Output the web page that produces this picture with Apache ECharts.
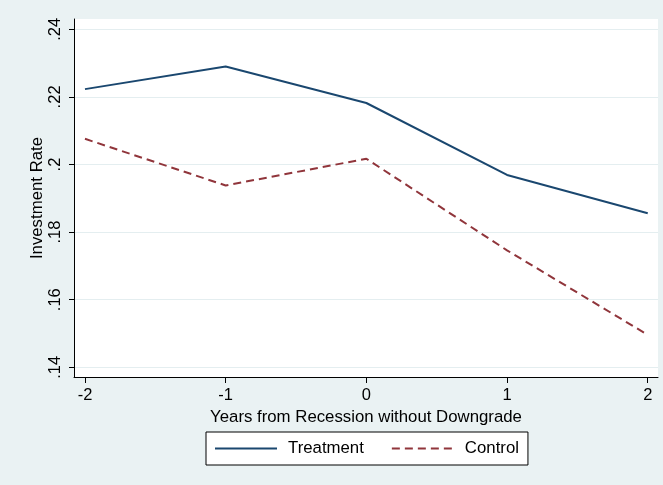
<!DOCTYPE html>
<html>
<head>
<meta charset="utf-8">
<script src="https://cdn.jsdelivr.net/npm/echarts@6/dist/echarts.min.js"></script>
<style>
  html, body { margin: 0; padding: 0; background: #EAF2F3; }
  #chart { width: 663px; height: 485px; }
</style>
</head>
<body>
<div id="chart"></div>
<script>
// Years relative to the recession
const years = [-2, -1, 0, 1, 2];
// Mean investment rate by group
const treatment = [0.2223, 0.2290, 0.2182, 0.1969, 0.1856];
const control = [0.2076, 0.1938, 0.2017, 0.1746, 0.1496];
// Axis tick positions
const xTicks = [-2, -1, 0, 1, 2];
const yTicks = [0.14, 0.16, 0.18, 0.20, 0.22, 0.24];

const font = '"Liberation Sans", Arial, sans-serif';
const navy = '#1A476F';
const maroon = '#90353B';
const tickSize = 16.5;
const textSize = 16.8;

function fmtRate(v) {
  return String(Math.round(v * 100) / 100).replace(/^0\./, '.');
}

const chart = echarts.init(document.getElementById('chart'), null, { renderer: 'canvas' });

chart.setOption({
  backgroundColor: '#EAF2F3',
  animation: false,
  textStyle: { fontFamily: font },
  grid: {
    left: 74, right: 5, top: 19, bottom: 108,
    show: true, backgroundColor: '#FFFFFF', borderWidth: 0
  },
  xAxis: {
    type: 'value',
    min: -2.078, max: 2.073,
    name: 'Years from Recession without Downgrade',
    nameLocation: 'middle',
    nameGap: 26,
    nameTextStyle: { color: '#000', fontSize: textSize, fontFamily: font },
    axisLine: { show: true, onZero: false, lineStyle: { color: '#000', width: 1 } },
    axisTick: { show: true, length: 6, customValues: xTicks, lineStyle: { color: '#000' } },
    axisLabel: { customValues: xTicks, color: '#000', fontSize: tickSize, margin: 10, fontFamily: font,
      formatter: v => String(v) },
    splitLine: { show: false }
  },
  yAxis: {
    type: 'value',
    min: 0.13713, max: 0.24305,
    name: 'Investment Rate',
    nameLocation: 'middle',
    nameGap: 28,
    nameMoveOverlap: false,
    nameTextStyle: { color: '#000', fontSize: textSize, fontFamily: font },
    axisLine: { show: true, onZero: false, lineStyle: { color: '#000', width: 1 } },
    axisTick: { show: true, length: 5, customValues: yTicks, lineStyle: { color: '#000' } },
    axisLabel: { customValues: yTicks, color: '#000', fontSize: tickSize, margin: 10, rotate: 90,
      fontFamily: font, formatter: fmtRate },
    splitLine: { show: true, lineStyle: { color: '#E4EEF0', width: 1 } }
  },
  legend: {
    left: 206, top: 432,
    padding: [8, 9, 8, 8],
    backgroundColor: '#FFFFFF',
    borderColor: '#000', borderWidth: 1, borderRadius: 0,
    itemWidth: 62, itemHeight: 14, itemGap: 27,
    itemStyle: { opacity: 0 },
    textStyle: { color: '#000', fontSize: textSize, fontFamily: font, padding: [0, 0, 0, 6] },
    data: ['Treatment', 'Control']
  },
  series: [
    {
      name: 'Treatment', type: 'line',
      data: years.map((x, i) => [x, treatment[i]]),
      symbol: 'none',
      lineStyle: { color: navy, width: 2 },
      itemStyle: { color: navy }
    },
    {
      name: 'Control', type: 'line',
      data: years.map((x, i) => [x, control[i]]),
      symbol: 'none',
      lineStyle: { color: maroon, width: 2, type: [8, 5] },
      itemStyle: { color: maroon }
    }
  ]
});
</script>
</body>
</html>
